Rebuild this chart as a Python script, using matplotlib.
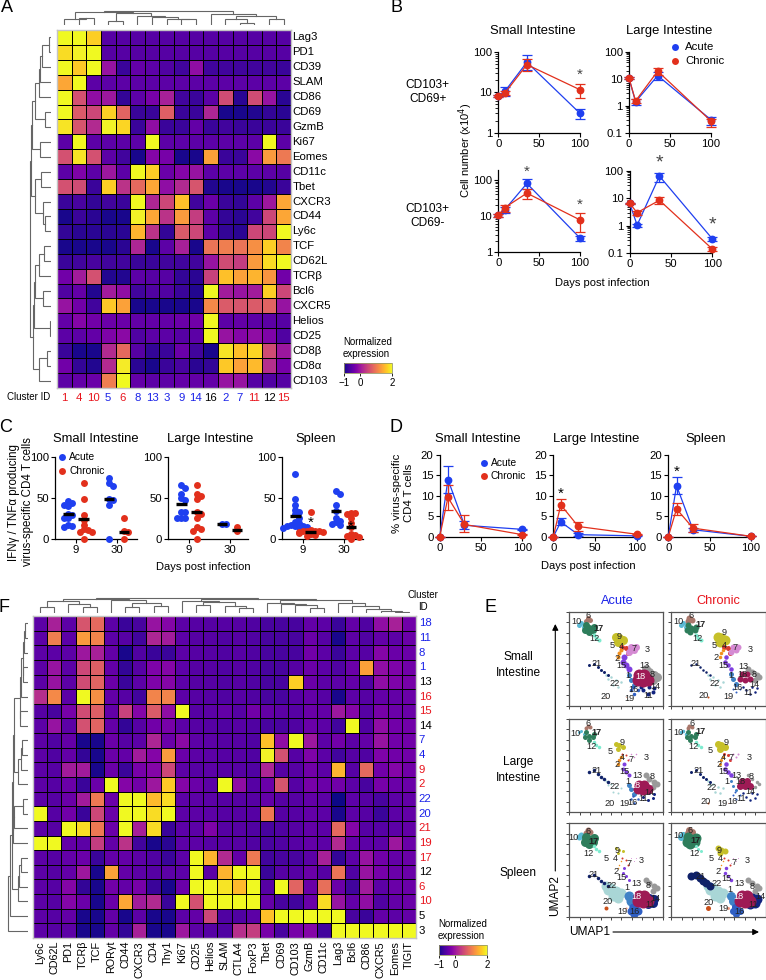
import numpy as np
import matplotlib
matplotlib.use("Agg")
import matplotlib.pyplot as plt

plt.rcParams['font.family'] = ['Liberation Sans', 'DejaVu Sans']
plt.rcParams['axes.unicode_minus'] = True

W, H = 766, 980
BLUE = '#1f3ff0'
RED = '#e2301c'
TXT_BLUE = '#1a22e8'
TXT_RED = '#e8141c'

# ----- PANEL A DATA -----
a_rows = ['Lag3', 'PD1', 'CD39', 'SLAM', 'CD86', 'CD69', 'GzmB', 'Ki67', 'Eomes', 'CD11c', 'Tbet', 'CXCR3',
          'CD44', 'Ly6c', 'TCF', 'CD62L', 'TCRβ', 'Bcl6', 'CXCR5', 'Helios', 'CD25', 'CD8β', 'CD8α', 'CD103']
a_ids = [1, 4, 10, 5, 6, 8, 13, 3, 9, 14, 16, 2, 7, 11, 12, 15]
a_id_colors = 'rrrbrbbbbbkbbrkr'
a_values = [
    [2, 2, 1.7, -.55, -.55, -.55, -.55, -.55, -.55, -.55, -.55, -.55, -.55, -.55, -.55, -.55],
    [1.8, 1.95, 2, -.55, -.55, -.55, -.55, -.55, -.55, -.55, -.55, -.55, -.55, -.55, -.55, -.55],
    [2, 1.65, 2, -.05, -.75, -.45, -.5, -.6, -.7, -.1, -.7, -.7, -.7, -.7, -.7, -.75],
    [1.4, 2, -.5, -.5, -.5, -.5, -.5, -.5, -.5, -.5, -.5, -.5, -.5, -.5, -.5, -.5],
    [2, .6, -.1, 0, -.8, -.5, -.3, .1, -.7, -.75, -.5, .55, -.85, .55, -.05, -.85],
    [2, .7, .5, 1.7, .8, -.75, -.75, .75, -.75, -.75, .15, -.95, -.95, -.9, -.8, -.85],
    [1.85, .65, .2, 1.95, 1.75, -.75, -.1, -.75, -.75, -.45, -.75, -.7, -.75, -.75, -.75, -.75],
    [-.5, 2, -.5, -.5, -.5, -.5, 2, -.5, -.5, -.5, -.5, -.5, -.5, -.5, 2, -.5],
    [.6, 1.85, .6, -.5, -.7, -.95, -.2, -.3, -.95, -.95, 1.35, -.75, -.75, -.15, 1.3, 1],
    [-.5, -.25, -.5, 0, -.5, 2, 1.7, -.4, -.2, -.05, -.5, -.5, -.5, -.5, -.5, -.55],
    [.6, .55, -.75, 1.7, .3, .85, 1.4, -.1, .2, .65, -.9, -.95, -.95, -.95, -.9, -.75],
    [-.75, -.65, -.8, -.7, -.75, 2, .15, .5, 1.6, -.7, -.4, -.75, -.8, -.5, 0, 1.4],
    [-.95, -.75, -.85, -.95, -.95, 1.95, 1.4, .3, 1.3, .4, -.5, -.8, -.85, -.7, .5, 1.4],
    [-.8, -.85, -.85, -.85, -.85, 1.5, .3, -.8, .7, .5, -.5, -.8, -.85, .5, .5, 2],
    [-.95, -.95, -.95, -.95, -.85, .15, -.95, -.5, .1, -.95, .95, 1.05, .95, 1.2, 1.7, 1.1],
    [-.75, -.7, -.65, -.7, -.7, -.75, -.75, -.7, -.7, -.7, -.05, .55, .4, 1.3, 1.8, 2],
    [-.35, .05, .6, -.9, -.9, -.5, -.55, -.55, -.8, -.85, .45, 1.6, 1.35, 1.5, 1.25, -.35],
    [-.6, -.45, -.9, .05, -.1, -.7, -.6, -.6, -.75, -.9, 2, .05, -.05, .05, 1.7, .5],
    [-.05, -.35, -.7, 1.65, 1.35, -.95, -.95, -.95, -.95, -.95, 1.15, .7, .65, .7, .8, -.05],
    [-.45, -.2, -.35, -.4, -.4, -.45, -.45, -.45, -.4, -.35, 2, -.5, -.45, -.5, -.5, -.55],
    [-.5, -.5, -.45, -.25, -.15, -.6, -.5, -.5, -.55, -.5, 2, -.05, -.2, -.1, -.25, -.6],
    [-.75, -.95, -.95, .2, .85, -.55, -.8, -.75, -.4, -.7, -.95, 1.85, 1.6, 1.75, .55, 0],
    [-.35, -.8, -.9, .2, 1.9, -.85, -.95, -.75, -.65, -.85, -.8, 1.65, 1.35, 1.55, .25, -.3],
    [-.5, -.45, -.4, 1.05, 2, -.45, -.5, -.5, -.45, -.45, -.45, -.05, -.05, -.55, -.6, -.55],
]
# dendrograms: (height, left, right), 0 is a leaf
a_top_tree = (13.6, (13.3, (6, 0, (6.5, 0, 0)),
                     (11.7, (4.3, 0, 0), (9, 0, (7.7, 0, (6, 0, (5.5, 0, 0)))))),
              (11, 0, (9, (6, 0, (2.3, 0, 0)), (5.7, 0, 0))))
a_left_tree = (20.7,
               (20, (19, (15.7, (12, (10.7, (9, (2.3, 0, 0), 0), 0), 0), (6.3, 0, 0)), (11, 0, 0)),
                (15.7, (10, 0, 0), (8, 0, (5.7, 0, 0)))),
               (18, (17.3, (16.3, (11.7, (7, 0, 0), 0), (8, 0, 0)), (1.3, 0, 0)), (12.3, (4, 0, 0), 0)))

# ----- PANEL F DATA -----
f_cols = ['Ly6c', 'CD62L', 'PD1', 'TCRβ', 'TCF', 'RORγt', 'CD44', 'CXCR3', 'CD4', 'Thy1', 'Ki67', 'CD25', 'Helios',
          'SLAM', 'CTLA4', 'FoxP3', 'Tbet', 'CD69', 'CD103', 'GzmB', 'CD11c', 'Lag3', 'Bcl6', 'CD86', 'CXCR5', 'Eomes', 'TIGIT']
f_ids = [18, 11, 8, 1, 13, 16, 15, 14, 7, 4, 9, 2, 22, 20, 21, 19, 17, 12, 6, 10, 5, 3]
f_id_colors = 'bbbbkrrkbbrrbbrrrkrrkk'
f_values = [
    [-.5, .1, -.5, .65, .85, -.5, -.75, -.65, -.05, -.2, -.5, -.55, -.55, -.55, -.55, -.6, -.65, -.65, -.65, -.45, -.5, -.75, -.45, -.6, -.1, .1, -.35],
    [-.5, 1.05, -.5, 1.3, 1.1, -.5, -.55, -.7, .15, .05, -.5, -.55, -.55, -.6, -.55, -.6, -.65, -.65, -.65, -.4, -.55, -.95, -.5, -.6, -.45, -.5, -.4],
    [-.5, -.5, -.5, 0, .1, -.45, -.95, -.6, -.75, -.75, -.5, -.55, -.55, -.6, -.55, -.6, -.65, -.65, -.65, -.35, -.5, -.75, -.5, -.55, -.2, -.4, -.4],
    [-.5, -.05, -.5, .5, .75, -.45, -.8, -.55, -.25, -.2, -.5, -.55, -.55, -.6, -.55, -.6, -.65, -.65, -.55, -.4, -.5, -.6, -.4, 1.35, -.1, -.25, -.35],
    [-.5, -.05, -.5, .55, .8, -.4, -.75, -.5, -.25, -.2, -.5, -.55, -.55, -.6, -.55, -.6, -.65, -.65, 1.7, -.4, -.5, -.5, -.45, -.6, -.1, -.25, -.3],
    [.25, 1.15, -.5, 2, 1.2, -.45, -.55, -.7, 1.1, 1.1, -.5, -.55, -.55, -.6, -.55, -.6, -.65, -.65, -.55, -.45, -.55, -.95, -.5, -.55, -.45, -.45, -.4],
    [-.55, -.65, -.3, .55, .75, -.45, .45, -.2, .7, -.1, 2, -.55, -.5, -.45, -.55, -.35, -.45, -.5, -.55, -.4, -.45, 0, -.2, -.55, -.3, -.4, -.4],
    [-.5, -.05, -.5, .6, .8, -.45, -.8, -.55, -.35, -.3, -.5, -.55, -.55, -.6, -.55, -.6, -.65, -.65, -.6, -.4, -.5, -.7, 2, -.6, -.1, -.35, -.35],
    [-.5, -.6, -.45, -.95, -.95, -.4, -.55, -.5, .15, -.4, -.15, -.5, -.5, -.55, -.55, -.6, 1.6, -.1, 2, 0, -.5, -.35, -.5, -.45, -.05, -.35, -.35],
    [-.5, -.6, -.45, -.8, -.95, -.4, -.45, .05, -.2, 1.3, -.4, -.5, -.5, -.55, -.55, -.6, 1.95, .6, -.55, -.25, -.5, -.7, -.55, -.6, -.25, -.35, -.35],
    [-.5, -.55, .05, .05, -.95, -.4, -.75, -.3, -.2, .5, -.5, -.55, -.5, -.55, -.55, -.6, .15, -.55, -.55, -.35, -.5, 1.5, -.55, .85, -.35, -.2, -.35],
    [-.5, -.55, -.4, -.75, -.4, 2, -.2, -.35, 0, 1.65, -.2, -.4, -.5, 2, -.1, -.55, -.4, .65, -.55, -.3, -.4, -.35, -.5, -.65, -.3, -.4, -.4],
    [-.5, -.55, -.4, .05, 1, -.4, 2, 2, 1.55, 1.8, -.5, -.5, -.5, -.55, -.55, -.55, -.45, -.55, -.55, -.45, -.5, -1, -.5, -.55, -.65, -.5, -.45],
    [2, -.55, -.35, -.75, .5, -.4, 2, 2, 1.8, 2, -.5, -.5, -.5, -.55, -.55, -.55, 1, -.55, -.55, -.45, -.5, -.95, -.5, -.55, -.75, -.5, -.45],
    [-.5, -.55, 2, 1.8, 1, -.4, 2, .1, 1.8, -.75, -.5, -.5, -.25, -.55, -.55, -.6, -.65, -.6, -.55, -.45, -.5, .85, -.2, -.55, -.55, -.5, -.45],
    [2, 2, -.45, -.5, .4, -.45, .3, -.7, -.95, -.85, -.5, -.5, -.55, -.55, -.55, -.6, -.65, -.6, -.55, -.45, -.5, .2, -.45, -.5, -.5, 0, -.4],
    [-.5, -.55, -.45, -.4, -.75, -.45, -.45, -.5, -.6, -.75, -.5, 2, 1.5, .2, -.45, 1, -.7, -.65, -.65, -.5, .1, -.8, -.5, -.05, -.35, -.45, -.4],
    [-.5, -.55, -.45, 0, -.95, 1.35, -.45, -.5, -.55, -.5, -.5, 2, -.5, 1.5, 2, 2, -.75, -.55, -.55, -.4, -.55, .95, -.6, -.05, -.3, -.4, -.4],
    [-.5, -.55, -.2, -.8, -.95, -.35, -.45, -.3, -.75, -.95, -.4, 2, 2, 1.85, 1.55, 2, -.55, 2, .8, -.4, .9, -.4, -.7, .05, -.5, -.4, -.4],
    [-.5, -.55, -.2, -.4, -.95, -.4, 1.4, .05, .2, -.75, 2, .6, 2, 2, 2, 2, -.45, -.65, -.7, -.4, 1.8, -.05, -.45, -.1, -.6, -.45, -.4],
    [-.5, -.55, -.45, -.95, -.95, -.45, -.95, -.5, -.95, -.95, -.5, -.45, .5, -.6, -.6, -.5, 1.6, 2, 2, 2, 2, 2, -.65, -.75, -.45, -.5, -.45],
    [-.5, -.55, -.5, -.95, -.95, -.45, -.8, .1, -.95, -.95, 0, -.5, -.55, -.6, .25, .4, -.3, -.65, -.3, -.2, -.7, 2, 2, 2, 2, 2, 2],
]
f_top_tree = (15,
              (14.3, (11.5, (5.7, 0, 0), (9, 0, (5.7, 0, 0))), (12.7, 0, (10, (5.7, 0, 0), (6.7, 0, 0)))),
              (14.3, (11.5, 0, (10.5, (7.5, 0, 0), (7, 0, (5, 0, 0)))),
               (13, (10, 0, (9, 0, (8.3, 0, (5, 0, 0)))),
                (10, 0, (6.7, 0, (4, 0, (1.8, 0, (1, 0, 0))))))))
f_left_tree = (20.3,
               (17.7, (16,
                       (15, (13.7, (7.9, (7, (5.5, (3.7, (2.7, 0, 0), 0), (5, 0, 0)), 0), (7.7, 0, 0)),
                             (10, (7, (6.3, 0, 0), 0), 0)),
                        (15, (13.7, (5.3, 0, 0), 0), 0)),
                       (10.3, (8.7, (7, 0, 0), 0), 0)), 0),
               0)

# ----- PANEL B DATA -----
b_days = [0, 8, 35, 100]
b_days_li = [0, 9, 36, 100]
b_si_top_acute = [8, 10.5, 55, 3]
b_si_top_acute_lo = [7.5, 8, 35, 2.2]
b_si_top_acute_hi = [8.5, 13.5, 85, 3.8]
b_si_top_chronic = [8, 9.5, 48, 11.5]
b_si_top_chronic_lo = [7.5, 8.5, 33, 7]
b_si_top_chronic_hi = [8.5, 11, 65, 16]
b_li_top_acute = [10.5, 1.4, 13, .3]
b_li_top_acute_lo = [9.5, 1.1, 9, .2]
b_li_top_acute_hi = [11.5, 1.7, 17, .38]
b_li_top_chronic = [10.5, 1.5, 19, .27]
b_li_top_chronic_lo = [9.5, 1.3, 14, .16]
b_li_top_chronic_hi = [11.5, 1.8, 24, .33]
b_si_bot_acute = [10.5, 15, 80, 2.4]
b_si_bot_acute_lo = [9.5, 12, 55, 2]
b_si_bot_acute_hi = [11.5, 18, 110, 2.8]
b_si_bot_chronic = [10.5, 17, 43, 7.7]
b_si_bot_chronic_lo = [9.5, 13, 30, 3.5]
b_si_bot_chronic_hi = [11.5, 20, 55, 12]
b_li_bot_acute = [6.5, 1.05, 65, .33]
b_li_bot_acute_lo = [6, .9, 40, .28]
b_li_bot_acute_hi = [7, 1.2, 85, .38]
b_li_bot_chronic = [6.5, 3, 8.5, .14]
b_li_bot_chronic_lo = [6, 2.5, 6, .12]
b_li_bot_chronic_hi = [7, 3.5, 11, .16]

# ----- PANEL C DATA -----
c_si_acute_9 = [46, 44, 42, 40, 30, 29, 26, 25, 17, 15, 14]
c_si_chronic_9 = [68, 49, 29, 23, 17, 12, 11, 8, 8, 0]
c_si_acute_30 = [74, 68, 65, 49, 47, 42, 0]
c_si_chronic_30 = [25, 10, 8, 0]
c_si_lines = [30, 24, 49, 8]
c_li_acute_9 = [66, 62, 55, 50, 48, 33, 33, 25, 25, 25]
c_li_chronic_9 = [66, 55, 52, 49, 33, 30, 26, 14, 12, 10, 0]
c_li_acute_30 = [18, 18]
c_li_chronic_30 = [14, 9]
c_li_lines = [43, 33, 18, 11]
c_sp_acute_9 = [79, 49, 41, 35, 33, 30, 26, 20, 19, 17, 16, 15, 15, 14, 14, 13]
c_sp_chronic_9 = [33, 11, 10, 10, 9, 9, 8, 8, 7, 6, 5, 3]
c_sp_acute_30 = [59, 55, 41, 34, 26, 22, 20, 18, 17]
c_sp_chronic_30 = [32, 32, 30, 25, 19, 14, 6, 5, 3, 2, 0]
c_sp_lines = [28, 8, 34, 14]

# ----- PANEL D DATA -----
d_si_days = [0, 10, 30, 100]
d_li_days = [0, 9, 30, 100]
d_si_acute = [0, 14, 2.8, 1.8]
d_si_acute_lo = [0, 10.7, 1.8, 1.6]
d_si_acute_hi = [0, 17.4, 3.8, 2]
d_si_chronic = [0, 9.6, 3, .5]
d_si_chronic_lo = [0, 6.5, 1.2, .4]
d_si_chronic_hi = [0, 12.7, 5.2, .6]
d_li_acute = [0, 3.6, .5, .2]
d_li_acute_lo = [0, 2.8, .2, .1]
d_li_acute_hi = [0, 4.5, .9, .3]
d_li_chronic = [0, 7.8, 2.5, .6]
d_li_chronic_lo = [0, 6.5, 1.5, .5]
d_li_chronic_hi = [0, 9.2, 3.6, .7]
d_sp_acute = [0, 12.5, 1.7, .1]
d_sp_acute_lo = [0, 10.4, 1.2, .05]
d_sp_acute_hi = [0, 14.7, 2.2, .15]
d_sp_chronic = [0, 6.8, 2.1, .1]
d_sp_chronic_lo = [0, 5.4, 1.2, .05]
d_sp_chronic_hi = [0, 8.2, 3, .15]

# ----- PANEL E DATA (panel units, 282 across, y down) -----
e_clusters = [22, 8, 21, 1, 14, 16, 18, 10, 6, 17, 12, 9, 4, 7, 2, 15, 19, 20]
e_colors = ['#a9d6d6', '#9a9a9a', '#0f2168', '#3f82c6', '#12247f', '#2f5fc4', '#9e1a55', '#5ab9d4', '#a9776b',
            '#2e7d5b', '#7debcf', '#c6c02a', '#d63a2f', '#d58ad3', '#f0901e', '#7f3fe0', '#f09a80', '#c9501a']
e_anchor_x = [[125, 140, 110, 155, 130, 145, 115], [240, 255, 230, 250, 262], [60, 75, 85, 95, 105, 115],
              [178, 185, 195], [240, 222, 255, 235, 250, 215], [195, 205, 185, 190],
              [210, 225, 205, 220, 235], [35, 30, 45], [55, 62, 50], [50, 60, 70, 58, 75, 48],
              [75, 80, 88], [140, 150, 160, 145], [158, 170, 175], [185, 195, 180, 200],
              [145, 150, 155], [165, 160, 170, 180], [170], [110]]
e_anchor_y = [[195, 205, 188, 210, 220, 225, 200], [180, 190, 170, 205, 195], [160, 155, 165, 175, 180, 190],
              [190, 205, 220], [225, 235, 228, 245, 240, 225], [245, 235, 235, 225],
              [190, 190, 205, 208, 205], [35, 40, 45], [20, 25, 28], [40, 50, 55, 62, 45, 55],
              [70, 78, 85], [75, 80, 85, 90], [105, 110, 125], [105, 115, 120, 105],
              [135, 125, 115], [135, 150, 160, 170], [255], [255]]
# blob diameter in px for each cluster, one list per panel
e_si_acute = [2.5, 9, 3, 5, 4, 3.5, 12, 5, 5, 7, 4, 9, 5, 7, 4, 6, 1, 1]
e_si_chronic = [2.5, 6, 2.5, 5, 2.5, 2, 6, 5, 6, 6, 4, 10, 5, 6, 3.5, 4.5, 1, 2]
e_li_acute = [2, 6, 3.5, 5, 3, 2.5, 10, 3, 4, 5, 3.5, 5, 2, 1.5, 3.5, 4, 0, 0]
e_li_chronic = [2.5, 3.5, 3, 3, 2.5, 2, 7, 3.5, 4, 5, 3.5, 7, 3, 2, 3, 4.5, 1, 2]
e_sp_acute = [10, 6, 3.5, 10, 9, 8, 12, 6, 6, 9, 3.5, 3, 2, 1, 1.5, 3, 2, 4]
e_sp_chronic = [10, 6, 8, 9, 10, 7, 12, 7, 7, 10, 3, 6, 2, 1, 1.5, 3.5, 3, 5]
e_label_ids = [10, 6, 17, 12, 9, 5, 4, 7, 3, 2, 21, 15, 13, 1, 18, 8, 22, 16, 14, 20, 19, 11]
e_si_acute_lx = [22, 55, 88, 77, 150, 130, 157, 194, 235, 142, 82, 157, 224, 177, 212, 249, 135, 194, 257, 110, 180, 237]
e_si_acute_ly = [30, 12, 50, 80, 73, 100, 103, 111, 112, 139, 154, 161, 160, 190, 193, 187, 216, 233, 225, 255, 259, 251]
e_si_chronic_lx = [23, 61, 87, 78, 157, 129, 160, 192, 237, 135, 72, 155, 217, 179, 213, 247, 130, 197, 247, 98, 170, 229]
e_si_chronic_ly = [30, 12, 39, 80, 63, 100, 102, 107, 113, 136, 154, 162, 163, 190, 189, 187, 216, 228, 217, 250, 253, 243]
e_li_acute_lx = [20, 55, 82, 68, 157, 123, 160, 185, 232, 143, 82, 165, 204, 177, 199, 247, 137, 190, 240, 120, 164, 222]
e_li_acute_ly = [45, 15, 40, 82, 70, 97, 115, 123, 115, 138, 157, 160, 170, 188, 201, 175, 205, 251, 221, 256, 256, 241]
e_li_chronic_lx = [23, 63, 88, 67, 163, 117, 155, 180, 232, 143, 82, 155, 195, 167, 207, 239, 122, 184, 237, 104, 154, 209]
e_li_chronic_ly = [41, 13, 38, 82, 70, 95, 115, 117, 115, 137, 155, 160, 170, 188, 189, 175, 208, 248, 218, 250, 255, 241]
e_sp_acute_lx = [14, 57, 72, 57, 142, 112, 139, 180, 217, 140, 74, 157, 202, 173, 202, 235, 127, 197, 257, 114, 159, 242]
e_sp_acute_ly = [43, 25, 55, 92, 83, 105, 107, 122, 112, 145, 155, 163, 183, 195, 222, 188, 188, 265, 227, 235, 265, 245]
e_sp_chronic_lx = [23, 57, 74, 69, 142, 119, 147, 187, 227, 139, 87, 165, 204, 174, 200, 242, 135, 204, 265, 112, 155, 244]
e_sp_chronic_ly = [38, 21, 52, 92, 83, 105, 107, 118, 112, 147, 162, 167, 183, 200, 222, 192, 183, 265, 222, 240, 257, 245]

# ----- FIGURE -----
fig = plt.figure(figsize=(W / 100, H / 100), dpi=100)


def axes_px(left, right, top, bottom):
    return fig.add_axes([left / W, 1 - bottom / H, (right - left) / W, (bottom - top) / H])


def text_px(x, y, s, size=8, **kw):
    kw.setdefault('ha', 'center')
    kw.setdefault('va', 'center')
    fig.text(x / W, 1 - y / H, s, fontsize=size, **kw)


def draw_tree(ax, node, start, vertical):
    # returns position, height, leaves used
    if node == 0:
        return start + 0.5, 0, 1
    h, a, b = node
    pa, ha, na = draw_tree(ax, a, start, vertical)
    pb, hb, nb = draw_tree(ax, b, start + na, vertical)
    ps = [pa, pa, pb, pb]
    hs = [ha, h, h, hb]
    if vertical:
        ax.plot(ps, hs, color='#666666', lw=0.8, solid_joinstyle='miter')
    else:
        ax.plot(hs, ps, color='#666666', lw=0.8, solid_joinstyle='miter')
    return (pa + pb) / 2, h, na + nb


def heatmap(box, values):
    ax = axes_px(*box)
    arr = np.array(values)
    mesh = ax.pcolormesh(arr, cmap='plasma', vmin=-1, vmax=2, edgecolors='black', linewidth=0.6)
    ax.set_ylim(arr.shape[0], 0)
    ax.set_xticks([])
    ax.set_yticks([])
    for s in ax.spines.values():
        s.set_color('#c4c4c4')
        s.set_linewidth(1)
    return ax, mesh


def colorbar(mesh, left, right, top, bottom):
    cax = axes_px(left, right, top, bottom)
    cb = fig.colorbar(mesh, cax=cax, orientation='horizontal')
    cb.set_ticks([-1, 0, 2])
    cb.ax.tick_params(labelsize=7, length=2.5, width=0.6, pad=1)
    cb.outline.set_linewidth(0.6)
    cb.outline.set_edgecolor('#999966')
    text_px(left - 1, top - 15, 'Normalized\nexpression', size=7, ha='left', linespacing=1.15)


def dendro(box, tree, n, vertical, hmax):
    ax = axes_px(*box)
    draw_tree(ax, tree, 0, vertical)
    if vertical:
        ax.set_xlim(0, n)
        ax.set_ylim(0, hmax)
    else:
        ax.set_ylim(n, 0)
        ax.set_xlim(hmax, 0)
    ax.axis('off')


def style_axes(ax, size=8.2):
    ax.spines['top'].set_visible(False)
    ax.spines['right'].set_visible(False)
    ax.spines['left'].set_linewidth(0.9)
    ax.spines['bottom'].set_linewidth(0.9)
    ax.patch.set_alpha(0)
    ax.tick_params(labelsize=size, length=3, width=0.8, pad=1.5)
    ax.tick_params(which='minor', length=2, width=0.6)


def time_series(ax, days, acute, a_lo, a_hi, chronic, c_lo, c_hi):
    for vals, lo, hi, col, z in [(acute, a_lo, a_hi, BLUE, 3), (chronic, c_lo, c_hi, RED, 4)]:
        vals = np.array(vals, float)
        err = [vals - np.array(lo, float), np.array(hi, float) - vals]
        ax.errorbar(days, vals, yerr=err, color=col, lw=0.9, elinewidth=0.9, capsize=3.4, capthick=0.9,
                    marker='o', ms=4.6, clip_on=False, zorder=z)


def star(ax, x, y, color='#444444', size=11):
    ax.text(x, y, '*', ha='center', va='center', fontsize=size, color=color, clip_on=False, zorder=6)


def swarm(values, ppu):
    # offsets in px so that the dots do not overlap too much
    placed = []
    offs = []
    for v in sorted(values, reverse=True):
        for dx in [0, 4, -4, 8, -8, 12, -12]:
            if all((dx - o) ** 2 + ((v - w) * ppu) ** 2 >= 16 for o, w in placed):
                break
        placed.append((dx, v))
        offs.append(dx)
    return np.array(offs), np.array(sorted(values, reverse=True))


def scatter_panel(left, right, groups, lines):
    # day 9 sits 0 and day 30 sits 1 on the axis, 40.7 px apart
    zero = left + 21
    ax = axes_px(left, right, 457.3, 538.7)
    ax.set_xlim(-21 / 40.7, (right - zero) / 40.7)
    ax.set_ylim(0, 100)
    centers = [-.185, .185, .815, 1.185]
    for vals, c, col, ln in zip(groups, centers, [BLUE, RED, BLUE, RED], lines):
        offs, vs = swarm(vals, 0.814)
        ax.scatter(c + offs / 40.7, vs, s=25, color=col, lw=0, clip_on=False, zorder=3)
        ax.plot([c - .125, c + .125], [ln, ln], color='black', lw=2.4, solid_capstyle='butt', zorder=5)
    ax.set_xticks([0, 1], ['9', '30'])
    ax.set_yticks([0, 50, 100])
    style_axes(ax)
    return ax


def legend_px(x, x_text, y1, y2, size):
    ax = fig.add_axes([0, 0, 1, 1], zorder=10)
    ax.set_xlim(0, W)
    ax.set_ylim(H, 0)
    ax.axis('off')
    ax.scatter([x], [y1], s=25, color=BLUE, lw=0)
    ax.scatter([x], [y2], s=25, color=RED, lw=0)
    ax.text(x_text, y1, 'Acute', fontsize=size, va='center')
    ax.text(x_text, y2, 'Chronic', fontsize=size, va='center')


# ----- A -----
ax_a, mesh_a = heatmap((57, 291, 30, 388), a_values)
for i, name in enumerate(a_rows):
    ax_a.text(16.1, i + 0.5, name, fontsize=8.2, va='center', ha='left', clip_on=False)
for i, (cid, c) in enumerate(zip(a_ids, a_id_colors)):
    col = {'r': TXT_RED, 'b': TXT_BLUE, 'k': 'black'}[c]
    ax_a.text(i + 0.5, 24.65, str(cid), fontsize=8.2, color=col, ha='center', va='center', clip_on=False)
text_px(7, 397, 'Cluster ID', size=7, ha='left')
dendro((57, 291, 9, 25), a_top_tree, 16, True, 16)
dendro((29, 51, 30, 388), a_left_tree, 24, False, 22)
colorbar(mesh_a, 344, 392, 363, 373)

# ----- B -----
ax = axes_px(498.3, 580, 51.7, 132.7)
time_series(ax, b_days, b_si_top_acute, b_si_top_acute_lo, b_si_top_acute_hi,
            b_si_top_chronic, b_si_top_chronic_lo, b_si_top_chronic_hi)
ax.set_yscale('log')
ax.set_ylim(1, 100)
ax.set_yticks([1, 10, 100], ['1', '10', '100'])
star(ax, 100, 27)
ax_si_top = ax

ax = axes_px(629, 711, 51.7, 132.7)
time_series(ax, b_days, b_li_top_acute, b_li_top_acute_lo, b_li_top_acute_hi,
            b_li_top_chronic, b_li_top_chronic_lo, b_li_top_chronic_hi)
ax.set_yscale('log')
ax.set_ylim(0.1, 100)
ax.set_yticks([.1, 1, 10, 100], ['0.1', '1', '10', '100'])
ax_li_top = ax

ax = axes_px(498.3, 580, 170, 251.7)
time_series(ax, b_days, b_si_bot_acute, b_si_bot_acute_lo, b_si_bot_acute_hi,
            b_si_bot_chronic, b_si_bot_chronic_lo, b_si_bot_chronic_hi)
ax.set_yscale('log')
ax.set_ylim(1, 190)
ax.set_yticks([1, 10, 100], ['1', '10', '100'])
star(ax, 35, 170)
star(ax, 100, 21)
ax_si_bot = ax

ax = axes_px(629.7, 712.3, 171, 253)
time_series(ax, b_days_li, b_li_bot_acute, b_li_bot_acute_lo, b_li_bot_acute_hi,
            b_li_bot_chronic, b_li_bot_chronic_lo, b_li_bot_chronic_hi)
ax.set_yscale('log')
ax.set_ylim(0.1, 100)
ax.set_yticks([.1, 1, 10, 100], ['0.1', '1', '10', '100'])
star(ax, 36, 200, size=14)
star(ax, 100, 1.1, size=14)
ax_li_bot = ax

for ax in [ax_si_top, ax_li_top, ax_si_bot, ax_li_bot]:
    ax.set_xlim(0, 100)
    ax.set_xticks([0, 50, 100])
    style_axes(ax)

text_px(532.7, 30.7, 'Small Intestine', size=9.4)
text_px(669.3, 30.7, 'Large Intestine', size=9.4)
text_px(427.7, 92, 'CD103+\nCD69+', size=8.6)
text_px(427.7, 216, 'CD103+\nCD69-', size=8.6)
text_px(466, 150, 'Cell number (x10$^{4}$)', size=8, rotation=90)
text_px(602, 283, 'Days post infection', size=8)

# ----- C -----
scatter_panel(55, 136.7, [c_si_acute_9, c_si_chronic_9, c_si_acute_30, c_si_chronic_30], c_si_lines)
scatter_panel(168, 248, [c_li_acute_9, c_li_chronic_9, c_li_acute_30, c_li_chronic_30], c_li_lines)
ax = scatter_panel(282, 362.7, [c_sp_acute_9, c_sp_chronic_9, c_sp_acute_30, c_sp_chronic_30], c_sp_lines)
star(ax, .2, 20, color='black')
star(ax, 1.18, 15, color='black')
text_px(95.7, 439, 'Small Intestine', size=9.4)
text_px(210, 439, 'Large Intestine', size=9.4)
text_px(316, 439, 'Spleen', size=9.4)
text_px(21, 502, 'IFNγ / TNFα producing\nvirus-specific CD4 T cells', size=8.3, rotation=90, linespacing=1.2)
text_px(203, 567, 'Days post infection', size=8)

# ----- D -----
d_sets = [
    (439.7, 522.3, d_si_days, d_si_acute, d_si_acute_lo, d_si_acute_hi, d_si_chronic, d_si_chronic_lo, d_si_chronic_hi),
    (553.3, 636.7, d_li_days, d_li_acute, d_li_acute_lo, d_li_acute_hi, d_li_chronic, d_li_chronic_lo, d_li_chronic_hi),
    (668.3, 750.7, d_si_days, d_sp_acute, d_sp_acute_lo, d_sp_acute_hi, d_sp_chronic, d_sp_chronic_lo, d_sp_chronic_hi),
]
d_axes = []
for left, right, days, *series in d_sets:
    ax = axes_px(left, right, 455, 536.7)
    time_series(ax, days, *series)
    ax.set_xlim(0, 100)
    ax.set_ylim(0, 20)
    ax.set_xticks([0, 50, 100])
    ax.set_yticks([0, 5, 10, 15, 20])
    style_axes(ax)
    d_axes.append(ax)
star(d_axes[1], 9, 10.6, color='black')
star(d_axes[2], 10, 15.8, color='black')
text_px(478, 439, 'Small Intestine', size=9.4)
text_px(595.7, 439, 'Large Intestine', size=9.4)
text_px(706, 439, 'Spleen', size=9.4)
text_px(403, 493, '% virus-specific\nCD4 T cells', size=8.2, rotation=90, linespacing=1.2)
text_px(588.3, 566, 'Days post infection', size=8)

# ----- F -----
ax_f, mesh_f = heatmap((33, 416, 616, 938), f_values)
for i, name in enumerate(f_cols):
    ax_f.text(i + 0.5, 22.2, name, fontsize=7.8, rotation=90, ha='center', va='top', clip_on=False)
for i, (cid, c) in enumerate(zip(f_ids, f_id_colors)):
    col = {'r': TXT_RED, 'b': TXT_BLUE, 'k': 'black'}[c]
    ax_f.text(27.2, i + 0.5, str(cid), fontsize=8.2, color=col, ha='left', va='center', clip_on=False)
text_px(423, 601, 'Cluster\nID', size=7, linespacing=1.25)
dendro((33, 416, 596, 613), f_top_tree, 27, True, 17)
dendro((6, 28, 616, 938), f_left_tree, 22, False, 22)
colorbar(mesh_f, 439, 487, 945, 955)

# ----- E -----
e_panels = [
    (569.3, 663.3, 611.7, 706, e_si_acute, e_si_acute_lx, e_si_acute_ly),
    (671, 765.7, 611.7, 706, e_si_chronic, e_si_chronic_lx, e_si_chronic_ly),
    (569.3, 663.3, 719, 812.3, e_li_acute, e_li_acute_lx, e_li_acute_ly),
    (671, 765.7, 719, 812.3, e_li_chronic, e_li_chronic_lx, e_li_chronic_ly),
    (569.3, 663.3, 823.3, 916.7, e_sp_acute, e_sp_acute_lx, e_sp_acute_ly),
    (671, 765.7, 823.3, 916.7, e_sp_chronic, e_sp_chronic_lx, e_sp_chronic_ly),
]
for left, right, top, bottom, sizes, lx, ly in e_panels:
    ax = axes_px(left, right, top, bottom)
    ax.set_xlim(0, 282)
    ax.set_ylim(282, 0)
    # the lower clusters follow the 18 label down between tissues
    shift = ly[e_label_ids.index(18)] - e_si_acute_ly[e_label_ids.index(18)]
    for cid, xs, ys, d, col in zip(e_clusters, e_anchor_x, e_anchor_y, sizes, e_colors):
        if d > 0:
            dy = shift if cid in (18, 1, 16) else 0
            ax.scatter(xs, np.array(ys) + dy, s=(d * 0.72) ** 2, color=col, lw=0, zorder=2)
    for cid, x, y in zip(e_label_ids, lx, ly):
        bold = 'bold' if cid == 17 else 'normal'
        col = 'white' if (cid == 18 and sizes[6] >= 10) else '#222222'
        ax.text(x, y, str(cid), fontsize=6.6, color=col, ha='center', va='center', fontweight=bold, zorder=5)
    ax.set_xticks(np.arange(0, 283, 31.3))
    ax.set_yticks(np.arange(0, 283, 31.3))
    ax.set_xticklabels([])
    ax.set_yticklabels([])
    ax.tick_params(length=2.2, width=0.7, color='#444444')
    for s in ax.spines.values():
        s.set_color('#555555')
        s.set_linewidth(0.9)

text_px(617.7, 600.7, 'Acute', size=9.2, color=TXT_BLUE)
text_px(718, 600.7, 'Chronic', size=9.2, color=TXT_RED)
text_px(518, 665, 'Small\nIntestine', size=8.6, linespacing=1.35)
text_px(518, 770, 'Large\nIntestine', size=8.6, linespacing=1.35)
text_px(518, 873, 'Spleen', size=8.6)
text_px(555, 895, 'UMAP2', size=8.6, rotation=90)
text_px(569, 932, 'UMAP1', size=8.6, ha='left')

overlay = fig.add_axes([0, 0, 1, 1], zorder=9)
overlay.set_xlim(0, W)
overlay.set_ylim(H, 0)
overlay.axis('off')
overlay.annotate('', xy=(555.3, 624), xytext=(555.3, 871),
                 arrowprops=dict(arrowstyle='-|>', color='black', lw=0.8, mutation_scale=9, shrinkA=0, shrinkB=0))
overlay.annotate('', xy=(759, 932), xytext=(613, 932),
                 arrowprops=dict(arrowstyle='-|>', color='black', lw=0.8, mutation_scale=9, shrinkA=0, shrinkB=0))

# ----- LEGENDS AND PANEL LETTERS -----
legend_px(675.3, 685, 47.3, 60.7, 8.2)
legend_px(61.7, 69, 457.3, 470.7, 7.4)
legend_px(484, 490.7, 462.7, 476, 7.4)

for letter, x, y in [('A', 7, 7), ('B', 397, 7), ('C', 6, 427), ('D', 396, 427), ('E', 490, 608), ('F', 4, 608)]:
    text_px(x, y, letter, size=13)

fig.savefig('out.png', dpi=100)
